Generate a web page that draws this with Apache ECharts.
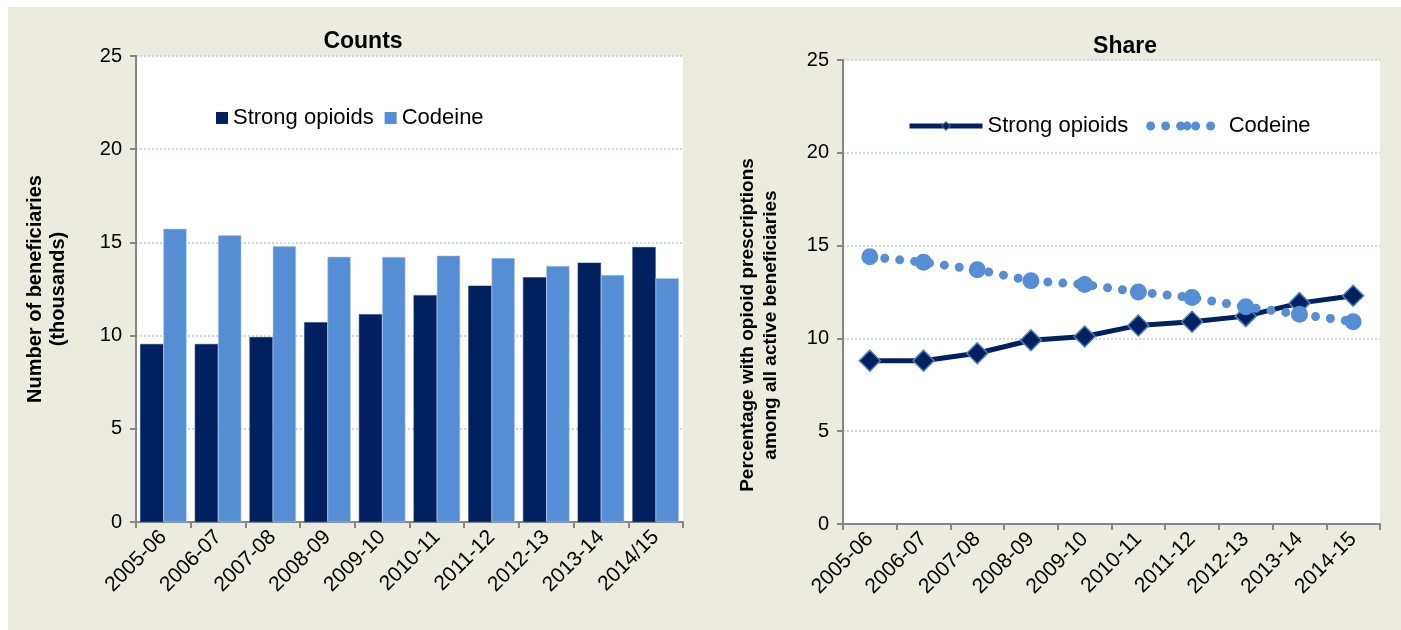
<!DOCTYPE html>
<html>
<head>
<meta charset="utf-8">
<script src="https://cdn.jsdelivr.net/npm/echarts@6/dist/echarts.min.js"></script>
<style>
  html, body { margin: 0; padding: 0; background: #ffffff; }
  #main { position: absolute; left: 8px; top: 7px; width: 1393px; height: 623px; background: #ecebdf; }
</style>
</head>
<body>
<div id="main"></div>
<script>
// years on each panel
var countYears = ['2005-06', '2006-07', '2007-08', '2008-09', '2009-10', '2010-11', '2011-12', '2012-13', '2013-14', '2014/15'];
var shareYears = ['2005-06', '2006-07', '2007-08', '2008-09', '2009-10', '2010-11', '2011-12', '2012-13', '2013-14', '2014-15'];
// counts, thousands
var strongCounts = [9.55, 9.55, 9.92, 10.72, 11.15, 12.17, 12.68, 13.13, 13.91, 14.75];
var codeineCounts = [15.73, 15.39, 14.79, 14.23, 14.22, 14.29, 14.16, 13.74, 13.25, 13.08];
// share, percent
var strongShare = [8.8, 8.8, 9.2, 9.9, 10.1, 10.7, 10.9, 11.2, 11.9, 12.3];
var codeineShare = [14.4, 14.1, 13.7, 13.1, 12.9, 12.5, 12.2, 11.7, 11.3, 10.9];
var yTicks = { min: 0, max: 25, interval: 5 };

var navy = '#002060';
var blue = '#558ed5';
var font = 'Liberation Sans, Arial, sans-serif';

var myChart = echarts.init(document.getElementById('main'));

function xAxisOf(idx, cats) {
    return {
        type: 'category',
        gridIndex: idx,
        data: cats,
        axisLine: { lineStyle: { color: '#868686', width: 2 } },
        axisTick: { show: true, length: 6, lineStyle: { color: '#868686', width: 2 } },
        axisLabel: { interval: 0, rotate: 45, color: '#000', fontSize: 21, fontFamily: font, margin: 12 }
    };
}
function yAxisOf(idx, name, gap, size, pad) {
    return {
        type: 'value',
        gridIndex: idx,
        min: yTicks.min,
        max: yTicks.max,
        interval: yTicks.interval,
        name: name,
        nameLocation: 'middle',
        nameGap: gap,
        nameTextStyle: { color: '#000', fontSize: size, fontWeight: 'bold', fontFamily: font, lineHeight: 23, padding: pad },
        axisLine: { show: true, lineStyle: { color: '#868686', width: 2 } },
        axisTick: { show: true, length: 6, lineStyle: { color: '#868686', width: 2 } },
        axisLabel: { color: '#000', fontSize: 20, fontFamily: font, margin: 14 },
        splitLine: { show: true, lineStyle: { color: '#b9cde5', width: 1.5, type: [2, 2] } }
    };
}

var option = {
    animation: false,
    textStyle: { fontFamily: font },
    title: [{
        text: 'Counts',
        left: 350,
        top: 18,
        textAlign: 'center',
        textStyle: { fontSize: 23, fontWeight: 'bold', color: '#000', fontFamily: font }
    }, {
        text: 'Share',
        left: 1112,
        top: 23,
        textAlign: 'center',
        textStyle: { fontSize: 23, fontWeight: 'bold', color: '#000', fontFamily: font }
    }],
    legend: [{
        data: ['Strong opioids', 'Codeine'],
        left: 203,
        top: 95,
        icon: 'rect',
        itemWidth: 12,
        itemHeight: 12,
        itemGap: 11,
        itemStyle: { borderWidth: 0 },
        textStyle: { fontSize: 22, color: '#000', fontFamily: font }
    }, {
        data: [{
            name: 'Strong opioids ',
            itemStyle: { color: navy, borderColor: '#4f81bd', borderWidth: 1 },
            lineStyle: { color: navy, width: 5 }
        }, {
            name: 'Codeine ',
            itemStyle: { color: blue, borderWidth: 0 },
            lineStyle: { color: blue, width: 9, type: [0, 15], cap: 'round' }
        }],
        left: 894,
        top: 103,
        itemWidth: 73,
        itemHeight: 11,
        itemGap: 18,
        formatter: function (name) { return name.trim(); },
        textStyle: { fontSize: 22, color: '#000', fontFamily: font }
    }],
    grid: [{
        left: 128, top: 49, width: 547, height: 466,
        show: true, backgroundColor: '#ffffff', borderWidth: 0
    }, {
        left: 835, top: 53, width: 537, height: 464,
        show: true, backgroundColor: '#ffffff', borderWidth: 0
    }],
    xAxis: [xAxisOf(0, countYears), xAxisOf(1, shareYears)],
    yAxis: [
        yAxisOf(0, 'Number of beneficiaries\n(thousands)', 66, 20, 0),
        yAxisOf(1, 'Percentage with opioid prescriptions\namong all active beneficiaries', 61, 19, [0, 66, 0, 0])
    ],
    series: [{
        name: 'Strong opioids',
        type: 'bar',
        xAxisIndex: 0,
        yAxisIndex: 0,
        data: strongCounts,
        barGap: '0%',
        barCategoryGap: '15%',
        itemStyle: { color: navy, borderColor: '#1f3a6e', borderWidth: 0.5 }
    }, {
        name: 'Codeine',
        type: 'bar',
        xAxisIndex: 0,
        yAxisIndex: 0,
        data: codeineCounts,
        barGap: '0%',
        barCategoryGap: '15%',
        itemStyle: { color: blue, borderColor: '#b9cde5', borderWidth: 0.5 }
    }, {
        name: 'Strong opioids ',
        type: 'line',
        xAxisIndex: 1,
        yAxisIndex: 1,
        data: strongShare,
        symbol: 'diamond',
        symbolSize: 21,
        lineStyle: { color: navy, width: 5 },
        itemStyle: { color: navy, borderColor: '#4f81bd', borderWidth: 1.5 }
    }, {
        name: 'Codeine ',
        type: 'line',
        xAxisIndex: 1,
        yAxisIndex: 1,
        data: codeineShare,
        symbol: 'circle',
        symbolSize: 17,
        lineStyle: { color: blue, width: 9, type: [0, 15], cap: 'round' },
        itemStyle: { color: blue, borderWidth: 0 }
    }]
};
myChart.setOption(option);
</script>
</body>
</html>
